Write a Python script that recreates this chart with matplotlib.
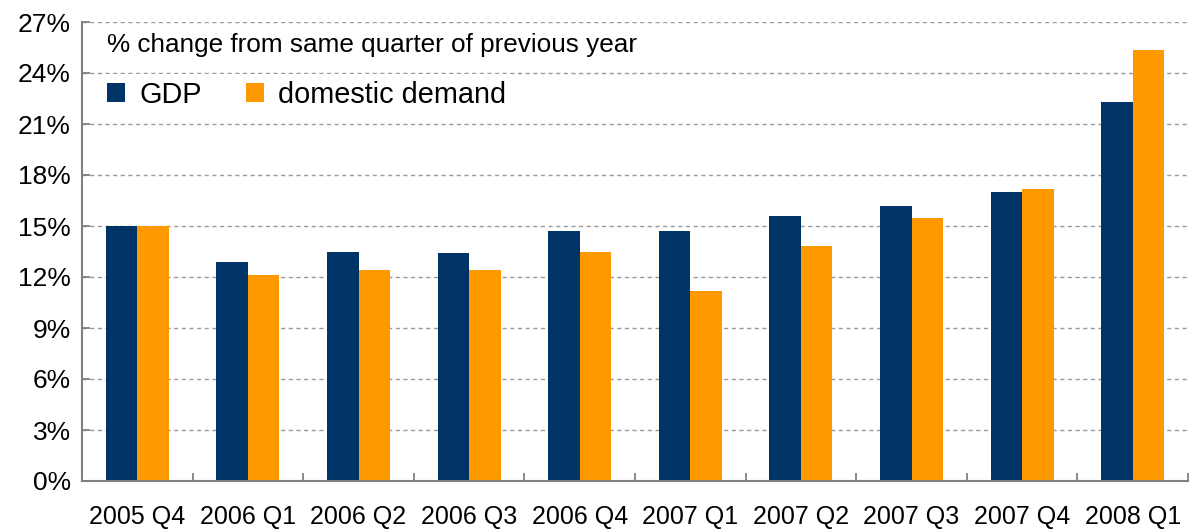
import matplotlib
matplotlib.use("Agg")
import matplotlib.pyplot as plt
import numpy as np
from matplotlib.ticker import FixedLocator, FuncFormatter

plt.rcParams['font.family'] = ['Liberation Sans', 'DejaVu Sans']

categories = ["2005 Q4", "2006 Q1", "2006 Q2", "2006 Q3", "2006 Q4",
              "2007 Q1", "2007 Q2", "2007 Q3", "2007 Q4", "2008 Q1"]
gdp = [15.0, 12.9, 13.5, 13.4, 14.7, 14.7, 15.6, 16.2, 17.0, 22.3]
domestic_demand = [15.0, 12.1, 12.4, 12.4, 13.5, 11.2, 13.8, 15.5, 17.2, 25.35]
y_ticks = [0, 3, 6, 9, 12, 15, 18, 21, 24, 27]

navy = "#003366"
orange = "#FF9900"
axis_grey = "#808080"

fig = plt.figure(figsize=(11.96, 5.30), dpi=100)
ax = fig.add_axes([82 / 1196, 1 - 481 / 530, (1188 - 82) / 1196, (481 - 22) / 530])

x = np.arange(len(categories))
w = 0.285
ax.bar(x - w / 2, gdp, width=w, color=navy, label="GDP", zorder=3)
ax.bar(x + w / 2, domestic_demand, width=w, color=orange, label="domestic demand", zorder=3)

ax.set_xlim(-0.5, len(categories) - 0.5)
ax.set_ylim(0, 27)

ax.yaxis.set_major_locator(FixedLocator(y_ticks))
ax.yaxis.set_major_formatter(FuncFormatter(lambda v, p: f"{v:.0f}%"))
ax.grid(axis='y', linestyle=(0, (3, 2.5)), color="#9a9a9a", linewidth=1.0, zorder=0)

ax.set_xticks(x)
ax.set_xticklabels(categories, fontsize=18)
ax.set_xticks(np.arange(-0.5, len(categories)), minor=True)
ax.tick_params(axis='x', which='major', length=0, pad=17)
ax.tick_params(axis='x', which='minor', length=6, direction='in', color=axis_grey, width=1.3)
ax.tick_params(axis='y', which='major', length=6, direction='in', color=axis_grey,
               width=1.3, labelsize=19, pad=8)

for s in ['top', 'right']:
    ax.spines[s].set_visible(False)
for s in ['left', 'bottom']:
    ax.spines[s].set_color(axis_grey)
    ax.spines[s].set_linewidth(1.5)
    ax.spines[s].set_zorder(6)

ax.text(25 / 1106, 1 - 23 / 459, "% change from same quarter of previous year",
        transform=ax.transAxes, fontsize=18.8, va='center', ha='left', zorder=5)

leg = ax.legend(loc='center left', bbox_to_anchor=(18 / 1106, 1 - 73 / 459), ncol=2,
                frameon=True, fontsize=20.8, handlelength=0.63, handleheight=0.63,
                handletextpad=0.5, columnspacing=1.5, borderaxespad=0.0, borderpad=0.25)
leg.get_frame().set_facecolor('white')
leg.get_frame().set_edgecolor('none')
leg.get_frame().set_alpha(1.0)
leg.set_zorder(4)

fig.savefig("out.png", dpi=100)
